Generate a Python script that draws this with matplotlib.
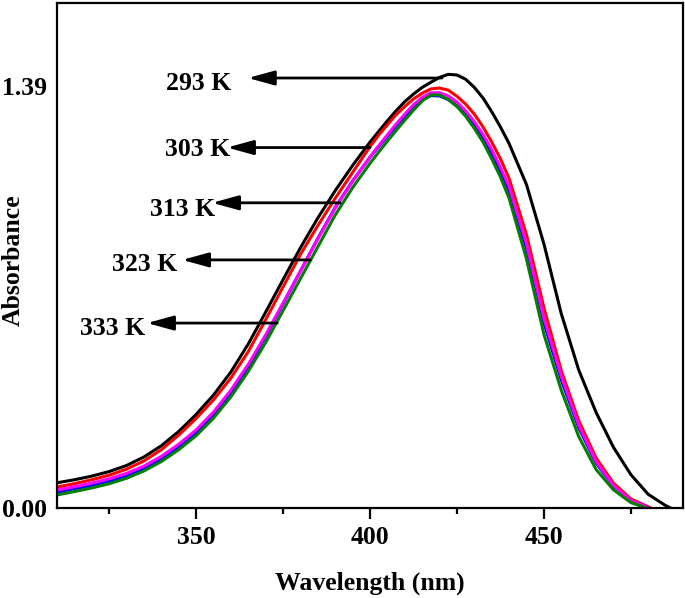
import matplotlib
matplotlib.use("Agg")
import matplotlib.pyplot as plt

# ---------------- data ----------------
wavelength = [310, 315, 320, 325, 330, 335, 340, 345, 350, 355, 360, 365, 370, 375, 380,
              385, 390, 395, 400, 402.5, 405, 407.5, 410, 412.5, 415, 417.5, 420, 422.5,
              425, 427.5, 430, 432.5, 435, 437.5, 440, 445, 450, 455, 460, 465, 470, 475,
              480, 485, 490]

abs_293 = [0.083, 0.093, 0.105, 0.120, 0.140, 0.168, 0.205, 0.252, 0.308, 0.372, 0.448,
           0.540, 0.645, 0.752, 0.857, 0.955, 1.045, 1.128, 1.205, 1.240, 1.275, 1.308,
           1.338, 1.363, 1.385, 1.402, 1.418, 1.428, 1.426, 1.412, 1.385, 1.350, 1.305,
           1.255, 1.200, 1.065, 0.870, 0.640, 0.455, 0.315, 0.200, 0.110, 0.045, 0.008,
           -0.020]

abs_303 = [0.069, 0.080, 0.093, 0.108, 0.128, 0.155, 0.192, 0.240, 0.295, 0.356, 0.428,
           0.515, 0.620, 0.728, 0.835, 0.930, 1.020, 1.105, 1.190, 1.228, 1.262, 1.295,
           1.322, 1.347, 1.366, 1.380, 1.383, 1.376, 1.356, 1.330, 1.297, 1.255, 1.205,
           1.150, 1.085, 0.900, 0.660, 0.452, 0.288, 0.165, 0.082, 0.030, 0.004, -0.025,
           -0.055]

abs_313 = [0.052, 0.063, 0.075, 0.089, 0.106, 0.130, 0.160, 0.200, 0.247, 0.305, 0.378,
           0.465, 0.565, 0.672, 0.780, 0.888, 0.990, 1.077, 1.155, 1.190, 1.224, 1.258,
           1.290, 1.320, 1.344, 1.358, 1.357, 1.345, 1.325, 1.296, 1.260, 1.218, 1.168,
           1.110, 1.045, 0.855, 0.610, 0.422, 0.265, 0.148, 0.072, 0.024, 0.001, -0.030,
           -0.060]

abs_323 = [0.059, 0.070, 0.082, 0.096, 0.114, 0.138, 0.170, 0.210, 0.257, 0.316, 0.388,
           0.473, 0.570, 0.675, 0.780, 0.886, 0.988, 1.076, 1.156, 1.193, 1.229, 1.264,
           1.297, 1.328, 1.352, 1.367, 1.368, 1.357, 1.337, 1.308, 1.272, 1.230, 1.180,
           1.122, 1.058, 0.870, 0.625, 0.434, 0.273, 0.153, 0.074, 0.025, 0.001, -0.030,
           -0.060]

abs_333 = [0.043, 0.054, 0.066, 0.080, 0.098, 0.122, 0.153, 0.192, 0.238, 0.296, 0.366,
           0.450, 0.545, 0.650, 0.755, 0.860, 0.965, 1.055, 1.135, 1.172, 1.208, 1.243,
           1.277, 1.310, 1.340, 1.360, 1.360, 1.345, 1.322, 1.290, 1.250, 1.205, 1.150,
           1.090, 1.020, 0.820, 0.572, 0.388, 0.236, 0.127, 0.060, 0.018, -0.002, -0.035,
           -0.065]

labels = ["293 K", "303 K", "313 K", "323 K", "333 K"]
colors = ["#000000", "#ff0000", "#0000ff", "#ff00ff", "#008000"]
series = [abs_293, abs_303, abs_313, abs_323, abs_333]

x_ticks = [350, 400, 450]
x_minor = [325, 375, 425, 475]
y_ticks = [0.0, 1.39]
y_ticklabels = ["0.00", "1.39"]

# ---------------- figure ----------------
plt.rcParams['font.family'] = ['Liberation Serif', 'DejaVu Serif']
plt.rcParams['font.weight'] = 'bold'

fig = plt.figure(figsize=(6.85, 5.98), dpi=100)
ax = fig.add_axes([57/685, 90/598, 626/685, 505/598])

for y, c in zip(series, colors):
    ax.plot(wavelength, y, color=c, lw=2.2, solid_capstyle='round',
            solid_joinstyle='round')

ax.set_xlim(310, 490)
ax.set_ylim(0, 1.663)

ax.set_xticks(x_ticks)
ax.set_xticks(x_minor, minor=True)
ax.set_yticks(y_ticks)
ax.set_yticklabels(y_ticklabels)

for sp in ax.spines.values():
    sp.set_linewidth(1.6)

ax.tick_params(axis='x', which='major', direction='out', length=8, width=1.6,
               labelsize=18.5, pad=5)
ax.tick_params(axis='x', which='minor', direction='out', length=4.5, width=1.6)
ax.tick_params(axis='y', which='major', length=0, labelsize=18.5, pad=7)
for t in ax.get_xticklabels() + ax.get_yticklabels():
    t.set_fontweight('bold')

ax.set_xlabel("Wavelength (nm)", fontsize=18.5, fontweight='bold', labelpad=16)
ax.set_ylabel("Absorbance", fontsize=18.5, fontweight='bold')
ax.yaxis.set_label_coords(-0.051, 0.49)

# annotations: (text x, text y, arrow tip x, arrow tail x, arrow y)
annots = [
    (350.6, 1.398, 364.9, 420.7, 1.416),
    (350.3, 1.181, 358.9, 400.0, 1.187),
    (346.0, 0.983, 354.6, 391.4, 1.005),
    (335.3, 0.802, 346.0, 382.8, 0.817),
    (325.9, 0.591, 335.9, 373.3, 0.609),
]
for lab, (tx, ty, x0, x1, ay) in zip(labels, annots):
    ax.text(tx, ty, lab, fontsize=18.5, fontweight='bold', ha='center', va='center')
    ax.annotate('', xy=(x0, ay), xytext=(x1, ay),
                arrowprops=dict(arrowstyle='-|>,head_length=0.8,head_width=0.22',
                                mutation_scale=20, lw=2.0, color='black',
                                shrinkA=0, shrinkB=0))

fig.savefig("out.png", dpi=100)
